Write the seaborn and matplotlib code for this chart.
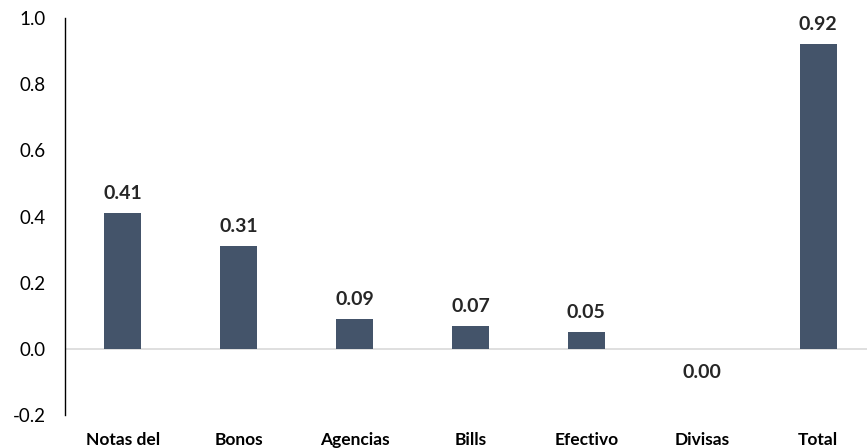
import matplotlib
matplotlib.use("Agg")
import matplotlib.pyplot as plt
import seaborn as sns
import pandas as pd

categories = ["Notas del", "Bonos", "Agencias", "Bills", "Efectivo", "Divisas", "Total"]
values = [0.41, 0.31, 0.09, 0.07, 0.05, 0.00, 0.92]
yticks = [-0.2, 0.0, 0.2, 0.4, 0.6, 0.8, 1.0]

sns.set_theme(style="white")
plt.rcParams["font.family"] = ["Lato", "DejaVu Sans"]

W, H = 867, 448
fig = plt.figure(figsize=(W / 100, H / 100), dpi=100)
left, right = 65 / W, 876 / W
bottom, top = (H - 415) / H, (H - 18) / H
ax = fig.add_axes([left, bottom, right - left, top - bottom])

df = pd.DataFrame({"cat": categories, "val": values})
sns.barplot(data=df, x="cat", y="val", color="#44546A", saturation=1,
            width=0.32, ax=ax, zorder=3, linewidth=0)

ax.set_xlim(-0.5, len(categories) - 0.5)
ax.set_ylim(-0.2, 1.0)
ax.set_yticks(yticks)
ax.set_yticklabels([f"{t:.1f}" for t in yticks], fontsize=13.5, color="#000000")
ax.set_xlabel("")
ax.set_ylabel("")
ax.tick_params(axis="x", length=0, pad=12)
ax.tick_params(axis="y", length=0, pad=14)
for lbl in ax.get_xticklabels():
    lbl.set_fontweight("bold")
    lbl.set_fontsize(12.5)
    lbl.set_color("#000000")

for s in ["top", "right", "bottom"]:
    ax.spines[s].set_visible(False)
ax.spines["left"].set_color("#000000")
ax.spines["left"].set_linewidth(1.0)
ax.axhline(0, color="#D9D9D9", linewidth=1.2, zorder=2)

for i, v in enumerate(values):
    if v > 0:
        ax.annotate(f"{v:.2f}", (i, v), xytext=(0, 8), textcoords="offset points",
                    ha="center", va="bottom", fontsize=14, fontweight="bold")
    else:
        ax.annotate(f"{v:.2f}", (i, v), xytext=(0, -11), textcoords="offset points",
                    ha="center", va="top", fontsize=14, fontweight="bold")

fig.savefig("out.png", dpi=100)
